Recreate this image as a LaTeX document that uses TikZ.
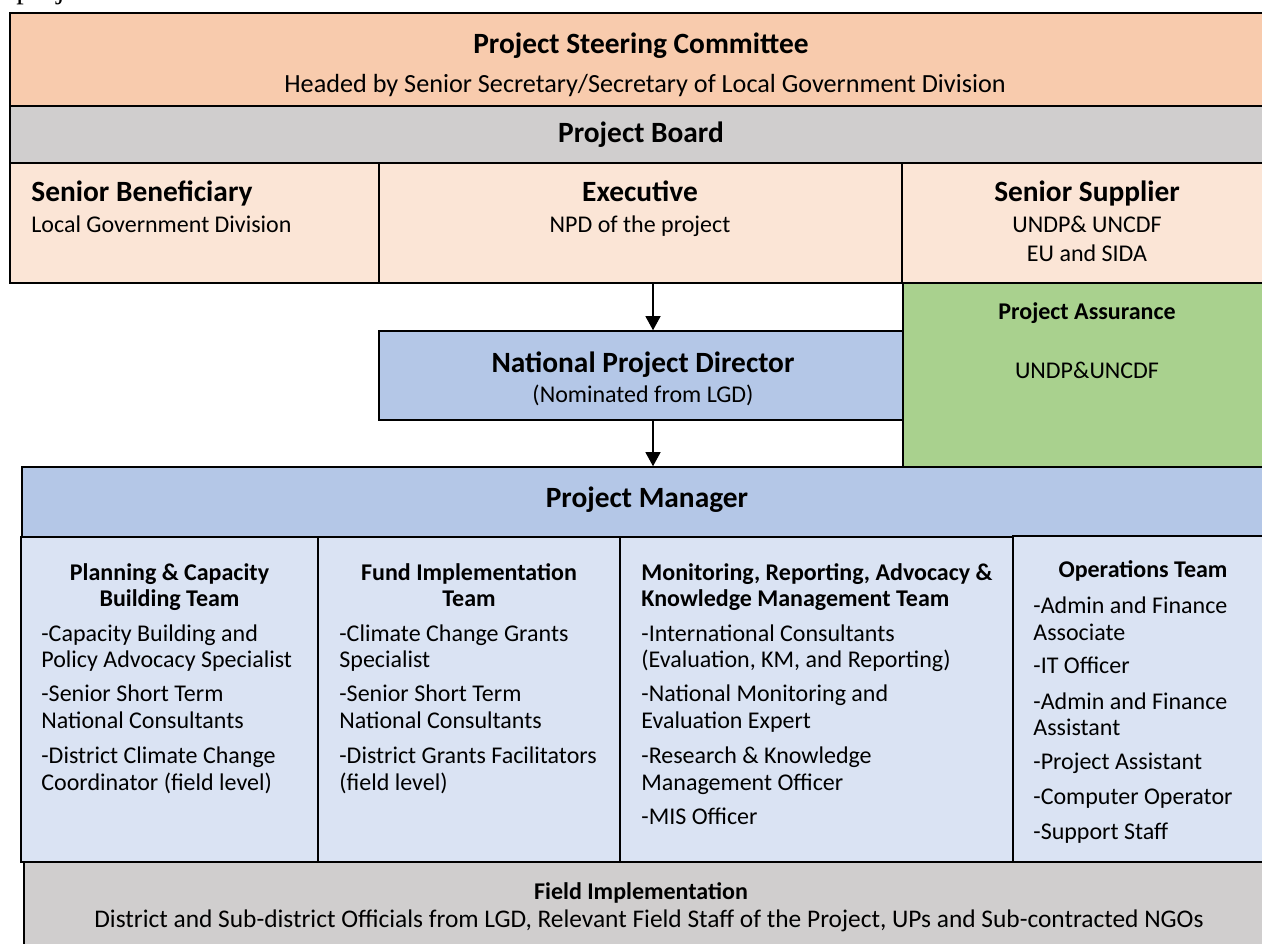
\documentclass[tikz,border=0pt]{standalone}
\usepackage{fontspec}
\setmainfont{Carlito}
\newfontfamily\timesf{Liberation Serif}
\usetikzlibrary{fit,arrows.meta}
\definecolor{peach}{HTML}{F8CBAD}
\definecolor{lightpeach}{HTML}{FBE5D6}
\definecolor{greyb}{HTML}{D0CECE}
\definecolor{greenb}{HTML}{A9D18E}
\definecolor{blueb}{HTML}{B4C7E7}
\definecolor{lightblue}{HTML}{DAE3F3}
\begin{document}
\begin{tikzpicture}[x=0.5pt,y=-0.5pt,
  box/.style={draw=black, line width=0.8pt, inner sep=0pt},
  big/.style={font=\fontsize{14.7}{17}\selectfont\bfseries, inner sep=0pt},
  sub/.style={font=\fontsize{13.1}{15}\selectfont, inner sep=0pt},
  norm/.style={font=\fontsize{12}{14}\selectfont, inner sep=0pt},
  head/.style={font=\fontsize{12}{14}\selectfont\bfseries, inner sep=0pt},
  small/.style={font=\fontsize{12}{14}\selectfont\bfseries, inner sep=0pt},
  arr/.style={-{Triangle[length=7pt,width=7.5pt]}, line width=0.6pt}]
\useasboundingbox (0,0) rectangle (1262,943);
\clip (0,0) rectangle (1262,943);
\fill[white] (0,0) rectangle (1262,943);

% stray caption fragment at the top edge
\node[font=\timesf\fontsize{15}{17}\selectfont, anchor=base west, inner sep=0pt] (cap) at (16,-1.5) {project};

% boxes
\node[box, fill=peach, fit={(10,13) (1266,106)}] (psc) {};
\node[box, fill=greyb, fit={(10,106) (1266,163)}] (pb) {};
\node[box, fill=lightpeach, fit={(10,163) (379,283)}] (sb) {};
\node[box, fill=lightpeach, fit={(379,163) (902,283)}] (ex) {};
\node[box, fill=lightpeach, fit={(902,163) (1266,283)}] (ss) {};
\node[box, fill=greenb, fit={(903,283) (1266,467)}] (pa) {};
\node[box, fill=blueb, fit={(379,331) (903,420)}] (npd) {};
\node[box, fill=blueb, fit={(22,467) (1266,537)}] (pm) {};
\node[box, fill=lightblue, fit={(21,537) (318,862)}] (c1) {};
\node[box, fill=lightblue, fit={(318,537) (620,862)}] (c2) {};
\node[box, fill=lightblue, fit={(620,537) (1013,862)}] (c3) {};
\node[box, fill=lightblue, line width=1.2pt, fit={(1013,536) (1266,862)}] (c4) {};
\node[box, fill=greyb, fit={(24,862) (1266,948)}] (fi) {};

% arrows
\coordinate (ax) at (653,0);
\draw[arr] (ex.south -| ax) -- (npd.north -| ax);
\draw[arr] (npd.south -| ax) -- (pm.north -| ax);

% texts top
\node[big, anchor=mid] (psct) at (641,49) {Project Steering Committee};
\node[sub, anchor=mid] (pscs) at (645,88) {Headed by Senior Secretary/Secretary of Local Government Division};
\node[big, anchor=mid] (pbt) at (641,138) {Project Board};
\node[big, anchor=mid west] (sbt) at (31,197) {Senior Beneficiary};
\node[norm, anchor=mid west] (sbs) at (31,228) {Local Government Division};
\node[big, anchor=mid] (ext) at (640,197) {Executive};
\node[norm, anchor=mid] (exs) at (640,228) {NPD of the project};
\node[big, anchor=mid] (sst) at (1087,197) {Senior Supplier};
\node[norm, anchor=mid] (sss1) at (1087,228) {UNDP\& UNCDF};
\node[norm, anchor=mid] (sss2) at (1087,257) {EU and SIDA};
\node[small, anchor=mid] (pat) at (1087,315) {Project Assurance};
\node[norm, anchor=mid] (pas) at (1087,374) {UNDP\&UNCDF};
\node[big, anchor=mid] (npdt) at (643,368) {National Project Director};
\node[norm, anchor=mid] (npds) at (643,398) {(Nominated from LGD)};
\node[big, anchor=mid] (pmt) at (647,503) {Project Manager};

% team headers
\node[head, anchor=mid] (c1h1) at (169.5,576) {Planning \& Capacity};
\node[head, anchor=mid] (c1h2) at (169.5,602) {Building Team};
\node[head, anchor=mid] (c2h1) at (469,576) {Fund Implementation};
\node[head, anchor=mid] (c2h2) at (469,602) {Team};
\node[head, anchor=mid west] (c3h1) at (641,576) {Monitoring, Reporting, Advocacy \&};
\node[head, anchor=mid west] (c3h2) at (641,602) {Knowledge Management Team};
\node[head, anchor=mid] (c4h) at (1143,573) {Operations Team};

% team items
\foreach \y/\t [count=\i] in {637/-Capacity Building and, 663/Policy Advocacy Specialist, 697/-Senior Short Term, 724/National Consultants, 759/-District Climate Change, 786/Coordinator (field level)}
  \node[norm, anchor=mid west] (c1t\i) at (41,\y) {\t};
\foreach \y/\t [count=\i] in {637/-Climate Change Grants, 663/Specialist, 697/-Senior Short Term, 724/National Consultants, 759/-District Grants Facilitators, 786/(field level)}
  \node[norm, anchor=mid west] (c2t\i) at (339,\y) {\t};
\foreach \y/\t [count=\i] in {637/-International Consultants, 663/{(Evaluation, KM, and Reporting)}, 697/-National Monitoring and, 724/Evaluation Expert, 759/-Research \& Knowledge, 786/Management Officer, 820/-MIS Officer}
  \node[norm, anchor=mid west] (c3t\i) at (641,\y) {\t};
\foreach \y/\t [count=\i] in {609/-Admin and Finance, 636/Associate, 669/-IT Officer, 705/-Admin and Finance, 731/Assistant, 765/-Project Assistant, 800/-Computer Operator, 835/-Support Staff}
  \node[norm, anchor=mid west] (c4t\i) at (1033,\y) {\t};

% field implementation
\node[head, anchor=mid] (fit) at (641,895) {Field Implementation};
\node[font=\fontsize{12.7}{15}\selectfont, inner sep=0pt, anchor=mid] (fis) at (649,923) {District and Sub-district Officials from LGD, Relevant Field Staff of the Project, UPs and Sub-contracted NGOs};
\end{tikzpicture}
\end{document}
